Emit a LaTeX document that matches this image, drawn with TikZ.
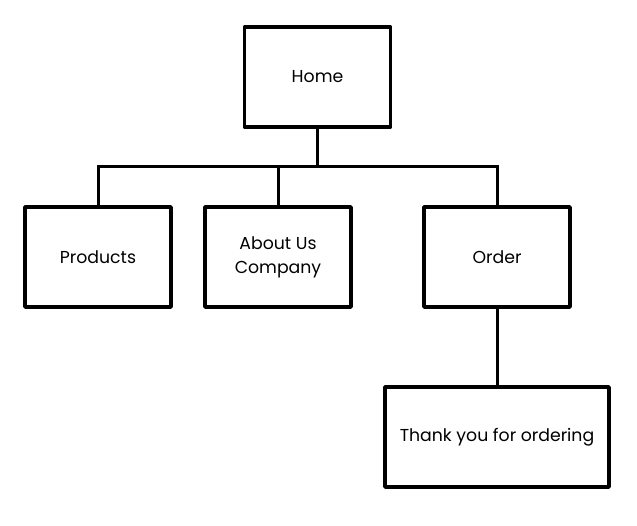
\documentclass[tikz,border=0pt]{standalone}
\usepackage{fontspec}
\setmainfont{Poppins}
\begin{document}
\begin{tikzpicture}[x=1pt,y=1pt,
  box/.style={draw=black,line width=3.5pt,fill=white,rectangle,minimum width=146pt,minimum height=100pt,align=center,font=\fontsize{17.3}{24}\selectfont,inner sep=0pt,line join=round},
  link/.style={draw=black,line width=3pt}]
\useasboundingbox (0,0) rectangle (637,525);
\node[box] (home) at (317.5,448) {Home};
\node[box] (prod) at (98,268) {Products};
\node[box] (about) at (278,268) {About Us\\Company};
\node[box] (order) at (497,268) {Order};
\node[box,minimum width=224pt] (thanks) at (497,88) {Thank you for ordering};
\coordinate (bus) at (317.5,358);
\draw[link] (home.south) -- (bus);
\draw[link] (prod.north) |- (bus) -| (order.north);
\draw[link] (about.north) -- (about.north |- bus);
\draw[link] (order.south) -- (thanks.north);
\end{tikzpicture}
\end{document}
